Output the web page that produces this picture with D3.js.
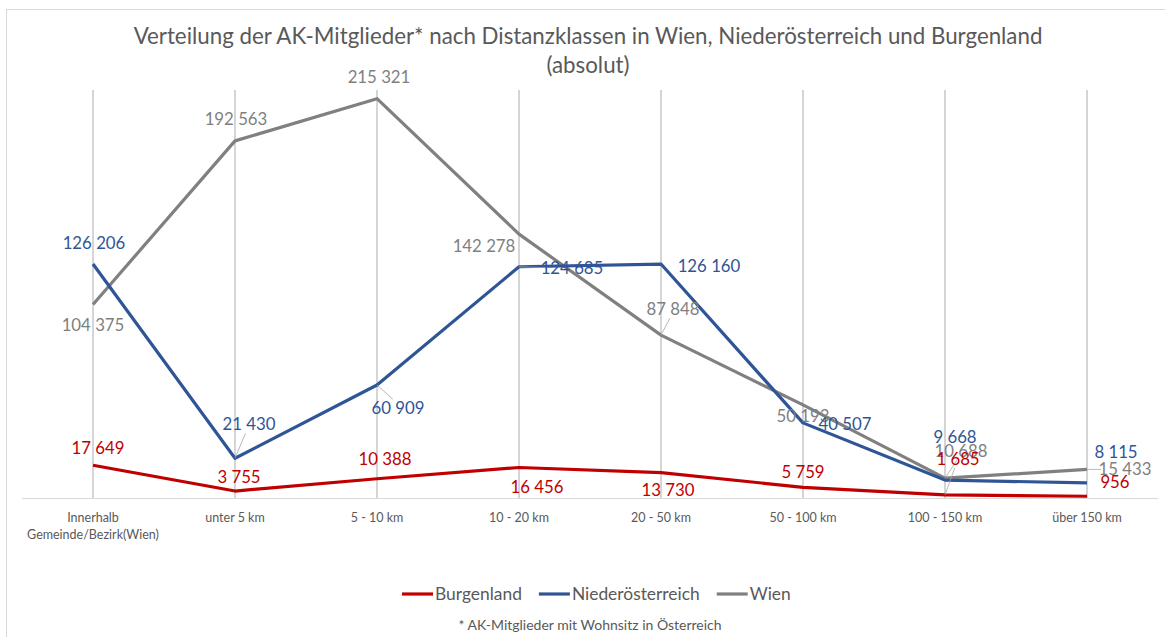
<!DOCTYPE html>
<html>
<head>
<meta charset="utf-8">
<script src="https://cdn.jsdelivr.net/npm/d3@7"></script>
<style>
  body { margin: 0; background: #fff; }
  svg { display: block; }
  text { font-family: Lato, "Open Sans", sans-serif; }
</style>
</head>
<body>
<svg id="chart" width="1165" height="637"></svg>
<script>
// Datos del grafico
const categories = [
  ["Innerhalb", "Gemeinde/Bezirk(Wien)"],
  ["unter 5 km"], ["5 - 10 km"], ["10 - 20 km"], ["20 - 50 km"],
  ["50 - 100 km"], ["100 - 150 km"], ["über 150 km"]
];
const seriesNames = ["Burgenland", "Niederösterreich", "Wien"];
const burgenland = [17649, 3755, 10388, 16456, 13730, 5759, 1685, 956];
const niederoesterreich = [126206, 21430, 60909, 124685, 126160, 40507, 9668, 8115];
const wien = [104375, 192563, 215321, 142278, 87848, 50193, 10688, 15433];
const seriesValues = [burgenland, niederoesterreich, wien];

// Estilos por serie
const lineColors = ["#C00000", "#2F5597", "#808080"];
const labelColors = ["#C00000", "#2F5597", "#7F7F7F"];

// Posicion de las etiquetas relativa al punto [dx, dy, lider]
const labelOffsets = [
  [[5, -17], [4, -14], [8, -20], [18, 20], [7, 18], [0, -15], [13, -36, 1], [28, -14]],
  [[1, -21], [14, -34, 1], [21, 23, 1], [53, 1, 1], [48, 2], [42, 1], [10, -43], [29, -31]],
  [[0, 21], [1, -22], [2, -22], [-35, 12], [12, -26, 1], [0, 11], [16, -27, 1], [38, 0, 1]]
];

const svg = d3.select("#chart");
const W = 1165, H = 637;

// Marco del grafico
svg.append("rect")
  .attr("x", 6.5).attr("y", 9.5).attr("width", W).attr("height", H)
  .attr("fill", "#fff").attr("stroke", "#D9D9D9");

// Escalas
const x = d3.scaleBand().domain(d3.range(categories.length)).range([22, 1158]);
const cx = i => x(i) + x.bandwidth() / 2;
const y = d3.scaleLinear().domain([0, 220000]).range([498, 90]);

const fmt = d3.formatLocale({ thousands: " ", grouping: [3], decimal: ",", currency: ["", ""] }).format(",d");

// Lineas verticales de la cuadricula
svg.append("g").selectAll("line")
  .data(categories)
  .join("line")
    .attr("x1", (d, i) => cx(i)).attr("x2", (d, i) => cx(i))
    .attr("y1", y.range()[1]).attr("y2", y.range()[0])
    .attr("stroke", "#BFBFBF").attr("stroke-width", 1.3);

// Eje X
svg.append("line")
  .attr("x1", 22).attr("x2", 1158).attr("y1", 498.5).attr("y2", 498.5)
  .attr("stroke", "#D9D9D9").attr("stroke-width", 1);

const xLabels = svg.append("g").selectAll("text")
  .data(categories)
  .join("text")
    .attr("x", (d, i) => cx(i))
    .attr("y", 522)
    .attr("text-anchor", "middle")
    .attr("fill", "#595959")
    .style("font-size", "12.5px");
xLabels.selectAll("tspan")
  .data(d => d)
  .join("tspan")
    .attr("x", function () { return this.parentNode.getAttribute("x"); })
    .attr("dy", (d, i) => i === 0 ? 0 : 17)
    .text(d => d);

// Lineas de las series
const line = d3.line().x((d, i) => cx(i)).y(d => y(d));
const order = [2, 1, 0]; // Wien debajo, Burgenland arriba
order.forEach(s => {
  svg.append("path")
    .datum(seriesValues[s])
    .attr("d", line)
    .attr("fill", "none")
    .attr("stroke", lineColors[s])
    .attr("stroke-width", 3.2)
    .attr("stroke-linejoin", "round");
});

// Etiquetas de datos con lineas guia
const labelSize = 16.8;
order.forEach(s => {
  const g = svg.append("g");
  seriesValues[s].forEach((v, i) => {
    const [dx, dy, leader] = labelOffsets[s][i];
    const px = cx(i), py = y(v);
    const lx = px + dx, ly = py + dy;
    if (leader) {
      // Linea desde el punto hasta el borde de la etiqueta
      const flat = Math.abs(dy) <= 5;
      const ex = flat ? lx - 24 : px + dx * 0.75;
      const ey = flat ? ly : ly + (dy < 0 ? 9 : -9);
      g.append("line")
        .attr("x1", px).attr("y1", py)
        .attr("x2", ex).attr("y2", ey)
        .attr("stroke", "#A6A6A6").attr("stroke-width", 0.8);
    }
    g.append("text")
      .attr("x", lx).attr("y", ly)
      .attr("dy", "0.35em")
      .attr("text-anchor", "middle")
      .attr("fill", labelColors[s])
      .style("font-size", labelSize + "px")
      .text(fmt(v));
  });
});

// Titulo
const title = svg.append("text")
  .attr("x", 588).attr("y", 44)
  .attr("text-anchor", "middle")
  .attr("fill", "#595959")
  .style("font-size", "22.3px");
title.append("tspan").attr("x", 588).text("Verteilung der AK-Mitglieder* nach Distanzklassen in Wien, Niederösterreich und Burgenland");
title.append("tspan").attr("x", 588).attr("dy", 29).text("(absolut)");

// Leyenda
const legend = svg.append("g");
let xOff = 0;
seriesNames.forEach((name, s) => {
  const item = legend.append("g").attr("transform", `translate(${xOff},0)`);
  item.append("line").attr("x1", 0).attr("x2", 31).attr("y1", 0).attr("y2", 0)
    .attr("stroke", lineColors[s]).attr("stroke-width", 3.2);
  const t = item.append("text").attr("x", 33).attr("y", 0).attr("dy", "0.35em")
    .attr("fill", "#595959").style("font-size", "17.4px").text(name);
  xOff += 33 + t.node().getComputedTextLength() + 17;
});
const legendWidth = xOff - 17;
legend.attr("transform", `translate(${402},594)`);

// Nota al pie
svg.append("text")
  .attr("x", 590).attr("y", 630)
  .attr("text-anchor", "middle")
  .attr("fill", "#595959")
  .style("font-size", "14px")
  .text("* AK-Mitglieder mit Wohnsitz in Österreich");
</script>
</body>
</html>
